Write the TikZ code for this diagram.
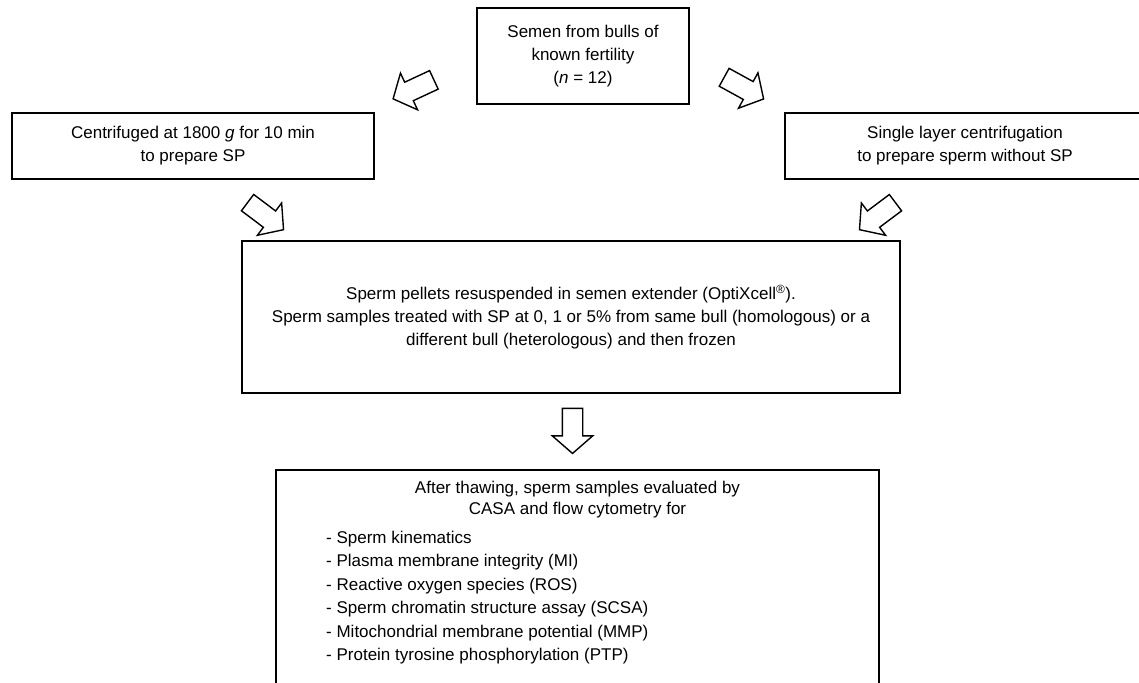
\documentclass[tikz,border=0pt]{standalone}
\usepackage{fontspec}
\setmainfont{Liberation Sans}
\usepackage{tikz}
\usetikzlibrary{positioning,shapes.arrows}

\begin{document}
\begin{tikzpicture}[x=1pt, y=-1pt,
    every node/.style={inner sep=0pt, font=\fontsize{17}{23}\selectfont},
    box/.style={draw, line width=1.5pt, align=center},
    blockarrow/.style={single arrow, draw, line width=1.4pt, fill=white,
      inner xsep=0pt, inner ysep=9.5pt,
      minimum height=45pt, minimum width=39pt,
      single arrow head extend=10pt, single arrow tip angle=98}]
    \useasboundingbox (0,0) rectangle (1139,682);
    \clip (0,0) rectangle (1139,682);
    % boxes
    \node[box, minimum width=212pt, minimum height=96pt] (semen) at (583,56)
      {Semen from bulls of\\known fertility\\(\textit{n} = 12)};
    \node[box, minimum width=362pt, minimum height=66pt] (centri) at (193,146)
      {Centrifuged at 1800 \textit{g} for 10 min\\to prepare SP};
    \node[box, minimum width=360pt, minimum height=66pt] (slc) at (965,146)
      {Single layer centrifugation\\to prepare sperm without SP};
    \node[box, minimum width=658pt, minimum height=152pt] (pellets) at (571,317)
      {Sperm pellets resuspended in semen extender (OptiXcell\textsuperscript{®}).\\
       Sperm samples treated with SP at 0, 1 or 5\% from same bull (homologous) or a\\
       different bull (heterologous) and then frozen};
    \node[box, minimum width=603pt, minimum height=240pt] (evalbox) at (577.5,590) {};
    \node[align=center, font=\fontsize{17}{21.5}\selectfont] (evaltitle) [below=11.7pt of evalbox.north]
      {After thawing, sperm samples evaluated by\\CASA and flow cytometry for};
    \node[align=left, anchor=north west, font=\fontsize{17}{23.4}\selectfont] (evallist) at (326,531)
      {- Sperm kinematics\\
       - Plasma membrane integrity (MI)\\
       - Reactive oxygen species (ROS)\\
       - Sperm chromatin structure assay (SCSA)\\
       - Mitochondrial membrane potential (MMP)\\
       - Protein tyrosine phosphorylation (PTP)};
    % block arrows
    \node[blockarrow, rotate=205] (toleft) at (417.5,87.5) {};
    \node[blockarrow, rotate=-28.8] (toright) at (740,86) {};
    \node[blockarrow, rotate=-36.9] (fromleft) at (262,213.5) {};
    \node[blockarrow, rotate=216.9] (fromright) at (881,213.5) {};
    \node[blockarrow, rotate=-90] (tothaw) at (572.5,426.5) {};
\end{tikzpicture}
\end{document}
